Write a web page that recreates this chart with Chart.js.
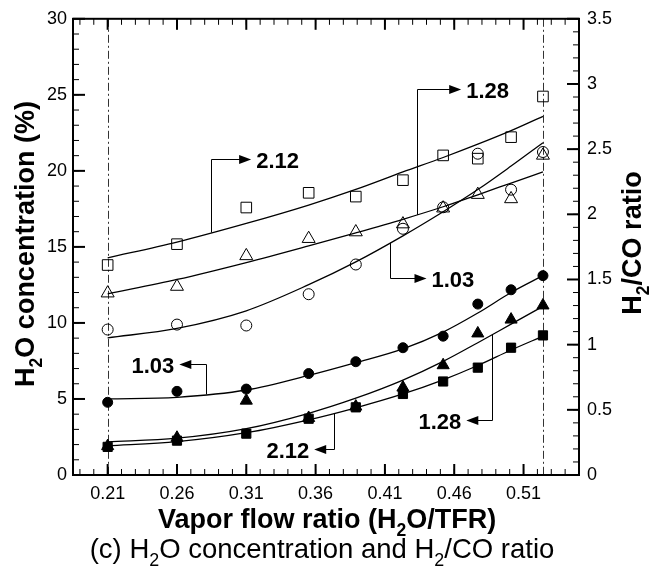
<!DOCTYPE html>
<html>
<head>
<meta charset="utf-8">
<script src="https://cdn.jsdelivr.net/npm/chart.js@4.4.1/dist/chart.umd.min.js"></script>
<style>
  html, body { margin: 0; padding: 0; background: #fff; }
  #wrap { width: 658px; height: 574px; }
</style>
</head>
<body>
<div id="wrap"><canvas id="grafico" width="658" height="574"></canvas></div>
<script>
// relación de flujo de vapor (H2O/TFR)
const flujoVapor = [0.21, 0.26, 0.31, 0.355, 0.389, 0.423, 0.452, 0.477, 0.501, 0.524];

// concentración de H2O (%), eje izquierdo
const h2o103 = [4.78, 5.50, 5.65, 6.67, 7.45, 8.37, 9.13, 11.24, 12.18, 13.11];
const h2o128 = [1.90, 2.45, 4.89, 3.75, 4.50, 5.75, 7.22, 9.31, 10.22, 11.15];
const h2o212 = [1.85, 2.26, 2.72, 3.70, 4.45, 5.33, 6.15, 7.06, 8.37, 9.18];

// relación H2/CO, eje derecho
const ratio103 = [1.116, 1.154, 1.147, 1.387, 1.615, 1.889, 2.054, 2.465, 2.189, 2.478];
const ratio128 = [1.395, 1.446, 1.681, 1.813, 1.864, 1.925, 2.047, 2.151, 2.118, 2.452];
const ratio212 = [1.611, 1.771, 2.052, 2.165, 2.136, 2.262, 2.452, 2.427, 2.592, 2.904];

// curvas de ajuste
const ajusteH2o103 = [5.00, 5.11, 5.59, 6.55, 7.39, 8.30, 9.40, 10.65, 12.00, 13.11];
const ajusteH2o128 = [2.17, 2.42, 3.05, 4.06, 5.05, 6.24, 7.47, 8.70, 9.92, 11.09];
const ajusteH2o212 = [1.91, 2.19, 2.78, 3.63, 4.42, 5.33, 6.26, 7.20, 8.22, 9.13];
const ajusteRatio103 = [1.052, 1.125, 1.26, 1.46, 1.635, 1.835, 2.02, 2.19, 2.37, 2.549];
const ajusteRatio128 = [1.39, 1.50, 1.63, 1.758, 1.858, 1.962, 2.058, 2.15, 2.24, 2.326];
const ajusteRatio212 = [1.666, 1.787, 1.930, 2.071, 2.191, 2.325, 2.436, 2.538, 2.642, 2.752];

// marcas de los ejes
const ticksX = [0.21, 0.26, 0.31, 0.36, 0.41, 0.46, 0.51];
const ticksIzq = [0, 5, 10, 15, 20, 25, 30];
const ticksDer = [0, 0.5, 1, 1.5, 2, 2.5, 3, 3.5];
const lineasRef = [0.21, 0.524];

// rótulos con flecha: [eje, x del tallo, y inicio, y fin, x punta, texto]
const rotulos = [
  ['yR', 0.2846, 1.86, 2.427, 0.3135, '2.12'],
  ['yR', 0.433, 1.995, 2.96, 0.465, '1.28'],
  ['yR', 0.414, 1.782, 1.509, 0.440, '1.03'],
  ['yL', 0.281, 5.30, 7.28, 0.2617, '1.03'],
  ['yL', 0.3736, 4.06, 1.68, 0.359, '2.12'],
  ['yL', 0.4874, 9.23, 3.59, 0.4687, '1.28']
];

const FUENTE = '"Liberation Sans", Arial, Helvetica, sans-serif';
const pts = (ys) => flujoVapor.map((x, i) => ({ x: x, y: ys[i] }));

function marcador(ys, eje, estilo, radio, relleno) {
  return {
    data: pts(ys), yAxisID: eje, showLine: false,
    pointStyle: estilo, pointRadius: radio, pointHoverRadius: radio,
    pointBorderColor: '#000', pointBorderWidth: 1,
    pointBackgroundColor: relleno ? '#000' : 'rgba(0,0,0,0)'
  };
}
function curva(ys, eje) {
  return {
    data: pts(ys), yAxisID: eje, showLine: true, pointRadius: 0,
    borderColor: '#000', borderWidth: 1.3, cubicInterpolationMode: 'monotone'
  };
}

// texto con subíndices: partes = [[texto, esSub], ...], y es la línea base
function textoRico(ctx, partes, x, y, px, negrita, giro) {
  const f = (s) => (negrita ? 'bold ' : '') + s + 'px ' + FUENTE;
  let total = 0;
  const anchos = partes.map(([t, sub]) => {
    ctx.font = f(sub ? px * 0.65 : px);
    const w = ctx.measureText(t).width;
    total += w;
    return w;
  });
  ctx.save();
  ctx.translate(x, y);
  ctx.rotate(giro);
  ctx.fillStyle = '#000';
  ctx.textAlign = 'left';
  ctx.textBaseline = 'alphabetic';
  let cx = -total / 2;
  partes.forEach(([t, sub], i) => {
    ctx.font = f(sub ? px * 0.65 : px);
    ctx.fillText(t, cx, sub ? px * 0.3 : 0);
    cx += anchos[i];
  });
  ctx.restore();
}

function flecha(ctx, x, y, dir) {
  ctx.beginPath();
  ctx.moveTo(x, y);
  ctx.lineTo(x - dir * 12, y - 4.5);
  ctx.lineTo(x - dir * 12, y + 4.5);
  ctx.closePath();
  ctx.fill();
}

const marco = {
  id: 'marco',
  beforeDatasetsDraw(chart) {
    const { ctx, chartArea: a, scales } = chart;
    const sx = scales.x;
    ctx.save();
    // líneas verticales de trazo y punto
    ctx.strokeStyle = '#333';
    ctx.lineWidth = 1;
    ctx.setLineDash([8, 3, 2, 3]);
    lineasRef.forEach(v => {
      const px = Math.round(sx.getPixelForValue(v)) + 0.5;
      ctx.beginPath();
      ctx.moveTo(px, a.top);
      ctx.lineTo(px, a.bottom);
      ctx.stroke();
    });
    ctx.restore();
  },
  afterDatasetsDraw(chart) {
    const { ctx, chartArea: a, scales } = chart;
    const sx = scales.x, sl = scales.yL, sr = scales.yR;
    ctx.save();
    ctx.strokeStyle = '#000';
    ctx.fillStyle = '#000';

    // marcas menores y mayores hacia dentro
    const raya = (x1, y1, x2, y2, w) => {
      ctx.lineWidth = w;
      ctx.beginPath();
      ctx.moveTo(x1, y1);
      ctx.lineTo(x2, y2);
      ctx.stroke();
    };
    for (let v = 0.19; v < 0.5495; v += 0.01) {
      const px = sx.getPixelForValue(v);
      raya(px, a.bottom, px, a.bottom - 6, 1);
      raya(px, a.top, px, a.top + 6, 1);
    }
    ticksX.forEach(v => {
      const px = sx.getPixelForValue(v);
      raya(px, a.bottom, px, a.bottom - 11, 2);
      raya(px, a.top, px, a.top + 11, 2);
    });
    for (let v = 1; v < 30; v++) {
      const py = sl.getPixelForValue(v);
      raya(a.left, py, a.left + 6, py, 1);
    }
    ticksIzq.forEach(v => {
      const py = sl.getPixelForValue(v);
      raya(a.left, py, a.left + 12, py, 2);
    });
    for (let v = 0.1; v < 3.45; v += 0.1) {
      const py = sr.getPixelForValue(v);
      raya(a.right, py, a.right - 6, py, 1);
    }
    ticksDer.forEach(v => {
      const py = sr.getPixelForValue(v);
      raya(a.right, py, a.right - 12, py, 2);
    });

    // marco del área de trazado
    ctx.lineWidth = 2;
    ctx.strokeRect(a.left, a.top, a.right - a.left, a.bottom - a.top);

    // rótulos con flecha
    ctx.lineWidth = 1;
    ctx.font = 'bold 22px ' + FUENTE;
    ctx.textBaseline = 'alphabetic';
    rotulos.forEach(([eje, xs, y0, y1, xp, txt]) => {
      const s = eje === 'yL' ? sl : sr;
      const px = Math.round(sx.getPixelForValue(xs)) + 0.5;
      const pa = s.getPixelForValue(y0);
      const pb = Math.round(s.getPixelForValue(y1)) + 0.5;
      const pt = sx.getPixelForValue(xp);
      const dir = pt > px ? 1 : -1;
      ctx.beginPath();
      ctx.moveTo(px, pa);
      ctx.lineTo(px, pb);
      ctx.lineTo(pt - dir * 10, pb);
      ctx.stroke();
      flecha(ctx, pt, pb, dir);
      ctx.textAlign = dir > 0 ? 'left' : 'right';
      ctx.fillText(txt, pt + dir * 5, pb + 8);
    });

    // títulos
    textoRico(ctx, [['Vapor flow ratio (H', 0], ['2', 1], ['O/TFR)', 0]],
      327, 528, 27, true, 0);
    textoRico(ctx, [['(c) H', 0], ['2', 1], ['O concentration and H', 0], ['2', 1], ['/CO ratio', 0]],
      322, 558, 27.5, false, 0);
    textoRico(ctx, [['H', 0], ['2', 1], ['O concentration (%)', 0]],
      34, 244, 27, true, -Math.PI / 2);
    textoRico(ctx, [['H', 0], ['2', 1], ['/CO ratio', 0]],
      641, 243, 27, true, -Math.PI / 2);
    ctx.restore();
  }
};

const fuenteTicks = { family: FUENTE, size: 18 };
const sinRejilla = { display: false, drawTicks: false };

new Chart(document.getElementById('grafico'), {
  type: 'scatter',
  data: {
    datasets: [
      marcador(h2o103, 'yL', 'circle', 5, true),
      marcador(h2o212, 'yL', 'rect', 6.5, true),
      marcador(h2o128, 'yL', 'triangle', 7, true),
      marcador(ratio103, 'yR', 'circle', 5.5, false),
      marcador(ratio128, 'yR', 'triangle', 7.5, false),
      marcador(ratio212, 'yR', 'rect', 7.5, false),
      curva(ajusteH2o103, 'yL'),
      curva(ajusteH2o128, 'yL'),
      curva(ajusteH2o212, 'yL'),
      curva(ajusteRatio103, 'yR'),
      curva(ajusteRatio128, 'yR'),
      curva(ajusteRatio212, 'yR')
    ]
  },
  options: {
    responsive: false,
    animation: false,
    devicePixelRatio: 1,
    layout: { padding: { top: 15, left: 0, right: 0, bottom: 0 } },
    plugins: { legend: { display: false }, tooltip: { enabled: false } },
    scales: {
      x: {
        type: 'linear', min: 0.185, max: 0.55,
        grid: sinRejilla, border: { display: false },
        afterBuildTicks: (s) => { s.ticks = ticksX.map(v => ({ value: v })); },
        afterFit: (s) => { s.height = 99; },
        ticks: { font: fuenteTicks, color: '#000', padding: 8, autoSkip: false, maxRotation: 0,
          callback: (v) => Number(v).toFixed(2) }
      },
      yL: {
        type: 'linear', position: 'left', min: 0, max: 30,
        grid: sinRejilla, border: { display: false },
        afterBuildTicks: (s) => { s.ticks = ticksIzq.map(v => ({ value: v })); },
        afterFit: (s) => { s.width = 73; },
        ticks: { font: fuenteTicks, color: '#000', padding: 6, callback: (v) => String(v) }
      },
      yR: {
        type: 'linear', position: 'right', min: 0, max: 3.5,
        grid: sinRejilla, border: { display: false },
        afterBuildTicks: (s) => { s.ticks = ticksDer.map(v => ({ value: v })); },
        afterFit: (s) => { s.width = 79; },
        ticks: { font: fuenteTicks, color: '#000', padding: 8, callback: (v) => String(v) }
      }
    }
  },
  plugins: [marco]
});
</script>
</body>
</html>
